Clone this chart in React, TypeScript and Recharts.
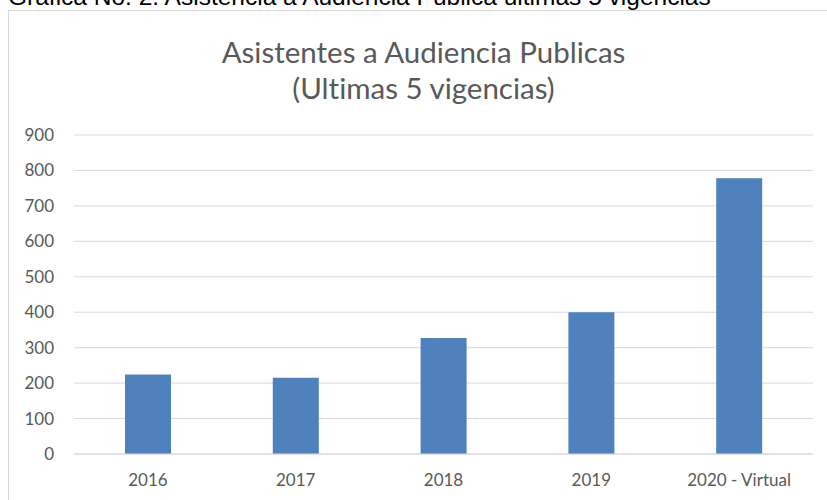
import React from 'react';
import { BarChart, Bar, XAxis, YAxis, CartesianGrid } from 'recharts';

const years = ['2016', '2017', '2018', '2019', '2020 - Virtual'];
const asistentes = [224, 215, 327, 400, 778];
const yTicks = [0, 100, 200, 300, 400, 500, 600, 700, 800, 900];

const data = years.map((year, i) => ({ year, asistentes: asistentes[i] }));

const FONT = 'Lato, "Open Sans", sans-serif';
const GRAY = '#595959';

const App: React.FC = () => {
  return (
    <div
      style={{
        position: 'absolute',
        left: 0,
        top: 0,
        width: 827,
        height: 500,
        overflow: 'hidden',
        background: '#fff',
      }}
    >
      <div
        style={{
          position: 'absolute',
          left: 8,
          top: -16,
          fontFamily: '"Liberation Sans", Arial, sans-serif',
          fontSize: 24.5,
          lineHeight: '25px',
          color: '#000',
          whiteSpace: 'nowrap',
        }}
      >
        Gráfica No. 2. Asistencia a Audiencia Publica ultimas 5 vigencias
      </div>
      <div
        style={{
          position: 'absolute',
          left: 8,
          top: 10,
          width: 840,
          height: 520,
          border: '1px solid #d9d9d9',
        }}
      />
      <div
        style={{
          position: 'absolute',
          left: 0,
          top: 34,
          width: 847,
          textAlign: 'center',
          fontFamily: FONT,
          fontSize: 29.5,
          lineHeight: '36px',
          color: GRAY,
          fontVariantLigatures: 'none',
        }}
      >
        Asistentes a Audiencia Publicas
        <br />
        (Ultimas 5 vigencias)
      </div>
      <div style={{ position: 'absolute', left: 0, top: 0 }}>
        <BarChart
          width={827}
          height={500}
          data={data}
          margin={{ top: 135, right: 14, bottom: 0, left: 0 }}
        >
          <CartesianGrid vertical={false} stroke="#d9d9d9" strokeWidth={1} />
          <XAxis
            dataKey="year"
            height={46}
            axisLine={{ stroke: '#d9d9d9' }}
            tickLine={false}
            tickSize={0}
            tickMargin={20}
            tick={{ fill: GRAY, fontSize: 17, fontFamily: FONT }}
            interval={0}
          />
          <YAxis
            width={74}
            domain={[0, 900]}
            ticks={yTicks}
            axisLine={false}
            tickLine={false}
            tickSize={0}
            tickMargin={20}
            tick={{ fill: GRAY, fontSize: 17, fontFamily: FONT }}
          />
          <Bar dataKey="asistentes" fill="#4f81bd" barSize={46} isAnimationActive={false} />
        </BarChart>
      </div>
    </div>
  );
};

export default App;
